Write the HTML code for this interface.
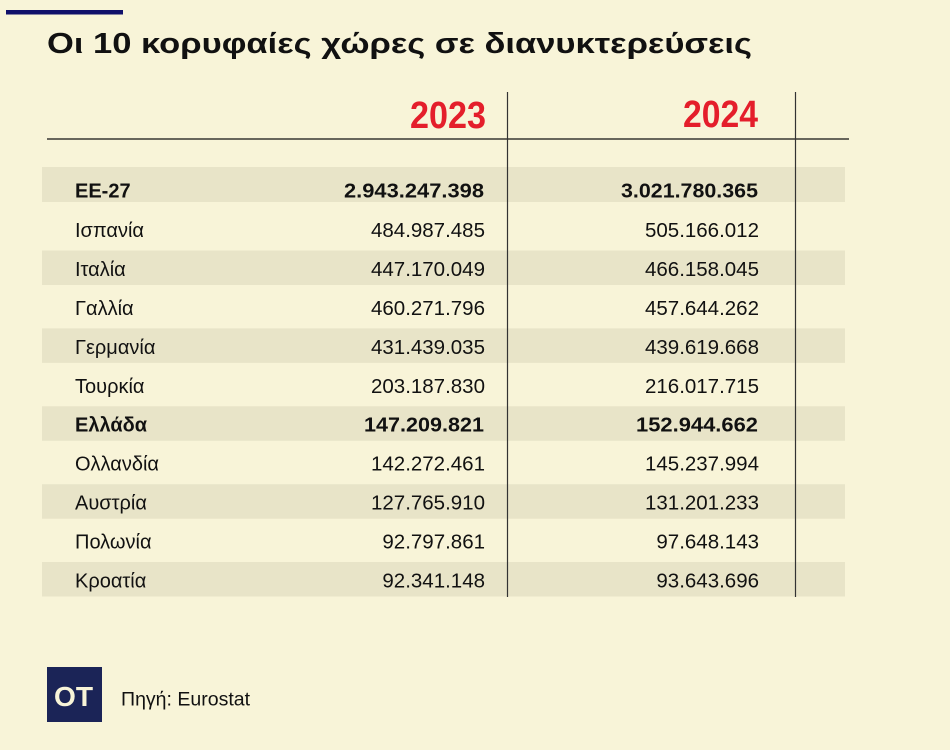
<!DOCTYPE html>
<html><head><meta charset="utf-8"><style>
html,body{margin:0;padding:0;background:#f8f4d8;}
svg{display:block;}
text{font-family:"Liberation Sans","DejaVu Sans",sans-serif;fill:#111;}
.n{font-size:20.5px;text-anchor:end;}
.l{font-size:20px;}
.b{font-weight:bold;}
</style></head><body>
<svg width="950" height="750" viewBox="0 0 950 750" xmlns="http://www.w3.org/2000/svg">
<rect x="0" y="0" width="950" height="750" fill="#f8f4d8"/>
<rect x="6" y="10" width="117" height="4.5" fill="#10106a"/>
<text x="47" y="53" font-size="29" font-weight="bold" textLength="705" lengthAdjust="spacingAndGlyphs">Οι 10 κορυφαίες χώρες σε διανυκτερεύσεις</text>

<text x="410" y="128" font-size="38" font-weight="bold" style="fill:#e41e2b" textLength="76" lengthAdjust="spacingAndGlyphs">2023</text>
<text x="683" y="127" font-size="38" font-weight="bold" style="fill:#e41e2b" textLength="75" lengthAdjust="spacingAndGlyphs">2024</text>

<!-- stripes -->
<g fill="#e8e4c8">
<rect x="42" y="167" width="803" height="35"/>
<rect x="42" y="250.5" width="803" height="34.5"/>
<rect x="42" y="328.4" width="803" height="34.5"/>
<rect x="42" y="406.3" width="803" height="34.5"/>
<rect x="42" y="484.2" width="803" height="34.5"/>
<rect x="42" y="562" width="803" height="34.5"/>
</g>

<line x1="47" y1="139" x2="849" y2="139" stroke="#111" stroke-width="1.2"/>
<line x1="507.5" y1="92" x2="507.5" y2="597" stroke="#333" stroke-width="1.2"/>
<line x1="795.5" y1="92" x2="795.5" y2="597" stroke="#333" stroke-width="1.2"/>

<!-- rows -->
<text class="l b" x="75" y="197.5">ΕΕ-27</text>
<text class="n b" x="484" y="197.5" textLength="140" lengthAdjust="spacingAndGlyphs" text-anchor="start" style="text-anchor:start" dx="-140">2.943.247.398</text>
<text class="n b" x="758" y="197.5" textLength="137" lengthAdjust="spacingAndGlyphs" style="text-anchor:start" dx="-137">3.021.780.365</text>

<text class="l" x="75" y="237">Ισπανία</text>
<text class="n" x="485" y="237">484.987.485</text>
<text class="n" x="759" y="237">505.166.012</text>

<text class="l" x="75" y="276">Ιταλία</text>
<text class="n" x="485" y="276">447.170.049</text>
<text class="n" x="759" y="276">466.158.045</text>

<text class="l" x="75" y="314.9">Γαλλία</text>
<text class="n" x="485" y="314.9">460.271.796</text>
<text class="n" x="759" y="314.9">457.644.262</text>

<text class="l" x="75" y="353.8">Γερμανία</text>
<text class="n" x="485" y="353.8">431.439.035</text>
<text class="n" x="759" y="353.8">439.619.668</text>

<text class="l" x="75" y="392.8">Τουρκία</text>
<text class="n" x="485" y="392.8">203.187.830</text>
<text class="n" x="759" y="392.8">216.017.715</text>

<text class="l b" x="75" y="431.7">Ελλάδα</text>
<text class="n b" x="484" y="431.7" textLength="120" lengthAdjust="spacingAndGlyphs" style="text-anchor:start" dx="-120">147.209.821</text>
<text class="n b" x="758" y="431.7" textLength="122" lengthAdjust="spacingAndGlyphs" style="text-anchor:start" dx="-122">152.944.662</text>

<text class="l" x="75" y="470.7">Ολλανδία</text>
<text class="n" x="485" y="470.7">142.272.461</text>
<text class="n" x="759" y="470.7">145.237.994</text>

<text class="l" x="75" y="509.6">Αυστρία</text>
<text class="n" x="485" y="509.6">127.765.910</text>
<text class="n" x="759" y="509.6">131.201.233</text>

<text class="l" x="75" y="548.6">Πολωνία</text>
<text class="n" x="485" y="548.6">92.797.861</text>
<text class="n" x="759" y="548.6">97.648.143</text>

<text class="l" x="75" y="587.5">Κροατία</text>
<text class="n" x="485" y="587.5">92.341.148</text>
<text class="n" x="759" y="587.5">93.643.696</text>

<!-- logo -->
<rect x="47" y="667" width="55" height="55" fill="#1b2457"/>
<text x="54" y="706" font-size="28" font-weight="bold" style="fill:#f8f4d8" textLength="39" lengthAdjust="spacingAndGlyphs">OT</text>
<text x="121" y="705.5" font-size="19" textLength="129" lengthAdjust="spacingAndGlyphs">Πηγή: Eurostat</text>
</svg>
</body></html>
